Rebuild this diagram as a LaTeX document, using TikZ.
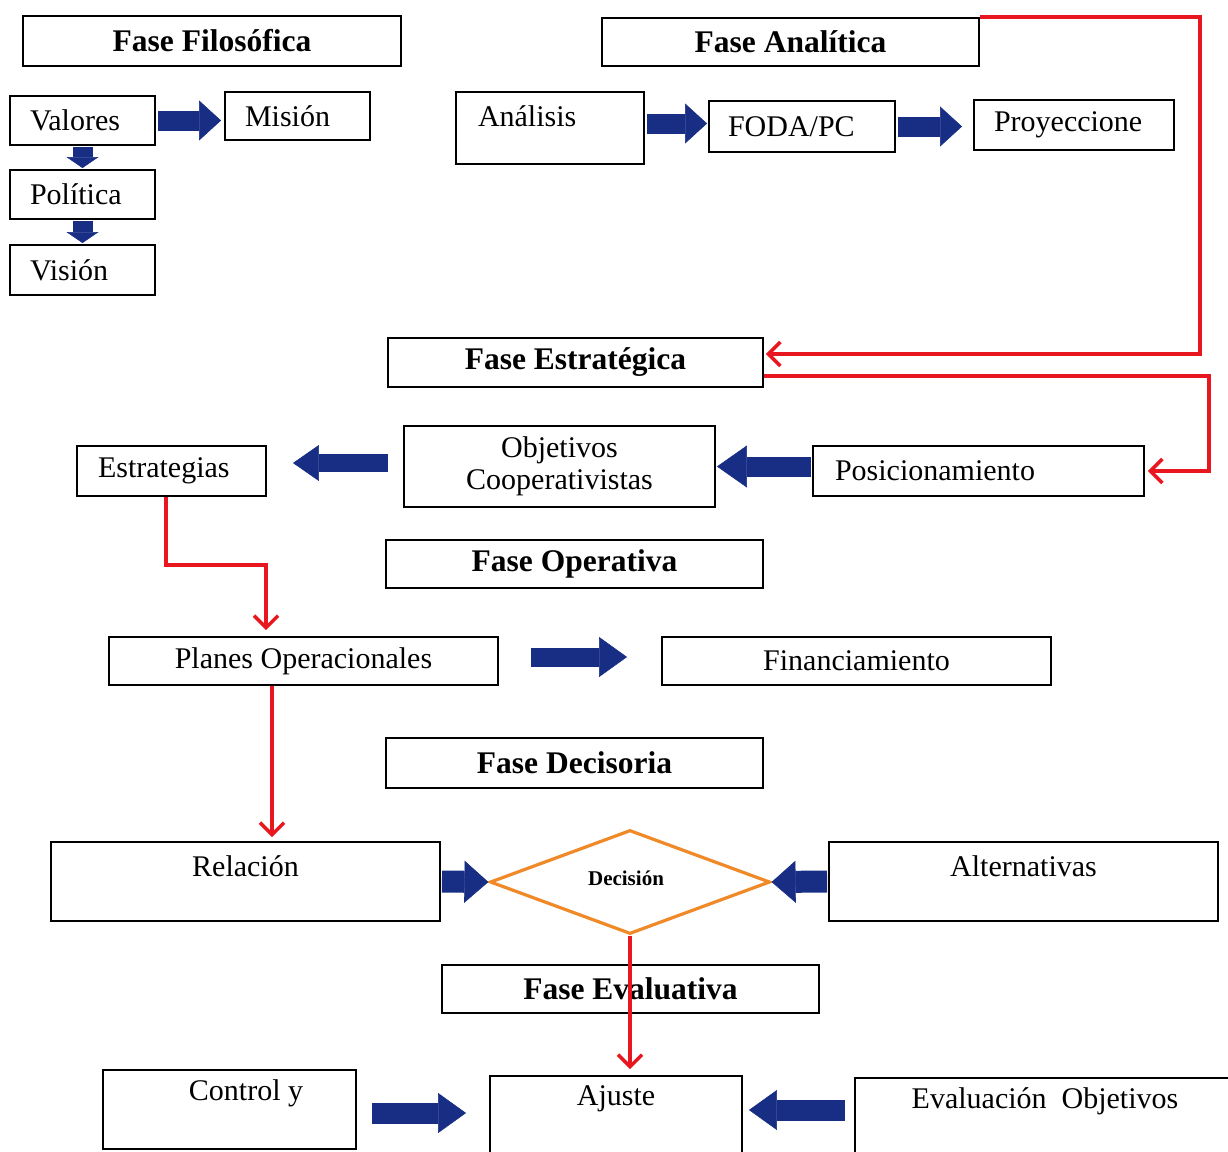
\documentclass[tikz,border=0pt]{standalone}
\usepackage{fontspec}
\setmainfont{Liberation Serif}
\usetikzlibrary{arrows.meta,shapes.geometric}
\definecolor{redln}{RGB}{232,22,30}
\definecolor{navy}{RGB}{24,46,132}
\definecolor{orng}{RGB}{240,138,40}
\begin{document}
\begin{tikzpicture}[x=1pt,y=-1pt,
  box/.style={draw=black, fill=white, line width=1.9pt, inner sep=0pt, align=center,
              font=\fontsize{30}{32}\selectfont},
  ttl/.style={box, font=\fontsize{31.5}{34}\selectfont\bfseries},
  blk/.style n args={3}{draw=navy, line width=#1,
              -{Triangle[length=#3, width=#2, line width=0.6pt]}},
  redarr/.style={draw=redln, line width=3.4pt, line join=miter,
              -{Straight Barb[length=12pt, width=24pt]}},
  dec/.style={diamond, draw=orng, line width=3.2pt, fill=white, inner sep=0pt,
              minimum width=280pt, minimum height=104pt, aspect=2.7,
              font=\fontsize{21}{23}\selectfont\bfseries}
]
\useasboundingbox (0,0) rectangle (1228,1151);
\clip (0,0) rectangle (1228,1151);

% Fase Filosofica
\node[ttl, minimum width=378pt, minimum height=50pt] (filo) at (212,41) {Fase Filosófica};
\node[box, minimum width=145pt, minimum height=49pt, text width=105pt, align=left] (valores) at (82.5,120.5) {Valores};
\node[box, minimum width=145pt, minimum height=48pt, text width=105pt, align=left] (mision) at (297.5,116) {Misión};
\node[box, minimum width=145pt, minimum height=49pt, text width=105pt, align=left] (politica) at (82.5,194.5) {Política};
\node[box, minimum width=145pt, minimum height=50pt, text width=105pt, align=left] (vision) at (82.5,270) {Visión};

% Fase Analitica
\node[ttl, minimum width=377pt, minimum height=48pt] (analitica) at (790.5,42) {Fase Analítica};
\node[box, minimum width=188pt, minimum height=72pt, text width=144pt, align=left] (analisis) at (550,128) {\raisebox{12pt}[\height][\depth]{Análisis}};
\node[box, minimum width=186pt, minimum height=51pt, text width=148pt, align=left] (foda) at (802,126.5) {FODA/PC};
\node[box, minimum width=200pt, minimum height=50pt, text width=160pt, align=left] (proy) at (1074,125) {Proyeccione};

% Fase Estrategica
\node[ttl, minimum width=375pt, minimum height=49pt] (estrategica) at (575.5,362.5) {Fase Estratégica};
\node[box, minimum width=331pt, minimum height=50pt, text width=287pt, align=left] (posic) at (978.5,471) {Posicionamiento};
\node[box, minimum width=311pt, minimum height=81pt] (objetivos) at (559.5,466.5) {Objetivos\\Cooperativistas};
\node[box, minimum width=189pt, minimum height=50pt, text width=147pt, align=left] (estrategias) at (171.5,471) {Estrategias};

% Fase Operativa
\node[ttl, minimum width=377pt, minimum height=48pt] (operativa) at (574.5,564) {Fase Operativa};
\node[box, minimum width=389pt, minimum height=48pt] (planes) at (303.5,661) {Planes Operacionales};
\node[box, minimum width=389pt, minimum height=48pt] (financ) at (856.5,661) {Financiamiento};

% Fase Decisoria
\node[ttl, minimum width=377pt, minimum height=50pt] (decisoria) at (574.5,763) {Fase Decisoria};
\node[box, minimum width=389pt, minimum height=79pt] (relacion) at (245.5,881.5) {\raisebox{15.5pt}[\height][\depth]{Relación}};
\node[dec] (decision) at (630,882) {\raisebox{4pt}[\height][\depth]{\hspace*{-8pt}Decisión}};
\node[box, minimum width=389pt, minimum height=79pt] (alternativas) at (1023.5,881.5) {\raisebox{15.5pt}[\height][\depth]{Alternativas}};

% Fase Evaluativa
\node[ttl, minimum width=377pt, minimum height=48pt] (evaluativa) at (630.5,989) {Fase Evaluativa};
\node[box, minimum width=253pt, minimum height=79pt] (control) at (229.5,1109.5) {\raisebox{16.5pt}[\height][\depth]{\hspace*{33pt}Control y}};
\node[box, minimum width=252pt, minimum height=84pt] (ajuste) at (616,1118) {\raisebox{19pt}[\height][\depth]{Ajuste}};
\node[box, minimum width=385pt, minimum height=82pt] (evaluacion) at (1047.5,1119) {\raisebox{18pt}[\height][\depth]{\hspace*{-5pt}Evaluación\ \ Objetivos}};

% blue block arrows
\draw[blk={20pt}{40pt}{22pt}, shorten <=2pt, shorten >=3pt] (valores.east) -- (valores.east -| mision.west);
\draw[blk={20pt}{32pt}{11pt}, shorten <=1pt, shorten >=1pt] (valores.south) -- (politica.north);
\draw[blk={20pt}{32pt}{11pt}, shorten <=1pt, shorten >=1pt] (politica.south) -- (vision.north);
\draw[blk={20pt}{40pt}{22pt}, shorten <=2pt, shorten >=1pt] ([yshift=3pt]analisis.east |- foda.west) -- ([yshift=3pt]foda.west);
\draw[blk={20pt}{40pt}{22pt}, shorten <=2pt, shorten >=11pt] (foda.east) -- (foda.east -| proy.west);
\draw[blk={20pt}{42pt}{30pt}, shorten <=1pt, shorten >=1pt] (posic.west |- objetivos.east) -- (objetivos.east);
\draw[blk={18pt}{36pt}{26pt}, shorten <=15pt, shorten >=26pt] ([yshift=3.5pt]objetivos.west) -- ([yshift=3.5pt]objetivos.west -| estrategias.east);
\draw[blk={19pt}{40pt}{28pt}, shorten <=32pt, shorten >=34pt] ([yshift=4pt]planes.east) -- ([yshift=4pt]financ.west);
\draw[blk={22pt}{42pt}{24pt}, shorten <=1pt] (relacion.east) -- (decision.west);
\draw[blk={22pt}{42pt}{24pt}, shorten <=1pt] (alternativas.west) -- (decision.east);
\draw[blk={21pt}{40pt}{28pt}, shorten <=15pt, shorten >=23pt] ([yshift=-3.5pt]control.east) -- ([yshift=-3.5pt]control.east -| ajuste.west);
\draw[blk={21pt}{40pt}{28pt}, shorten <=9pt, shorten >=6pt] ([yshift=9pt]evaluacion.west) -- ([yshift=9pt]evaluacion.west -| ajuste.east);

% red connectors
\draw[redarr, shorten >=2pt] (analitica.north east) -- ++(220,0) |- ([yshift=8.5pt]estrategica.east);
\draw[redarr, shorten >=3pt] ([yshift=-13.5pt]estrategica.east) -- ++(445,0) |- (posic.east);
\draw[redarr, shorten >=6pt] ([xshift=-5.5pt]estrategias.south) -- ++(0,68) -| ([xshift=-37.5pt]planes.north);
\draw[redarr, shorten >=4pt] ([xshift=-31.5pt]planes.south) -- ([xshift=-31.5pt]planes.south |- relacion.north);
\draw[redarr, shorten >=6pt] (decision.south) -- (decision.south |- ajuste.north);
\end{tikzpicture}
\end{document}
